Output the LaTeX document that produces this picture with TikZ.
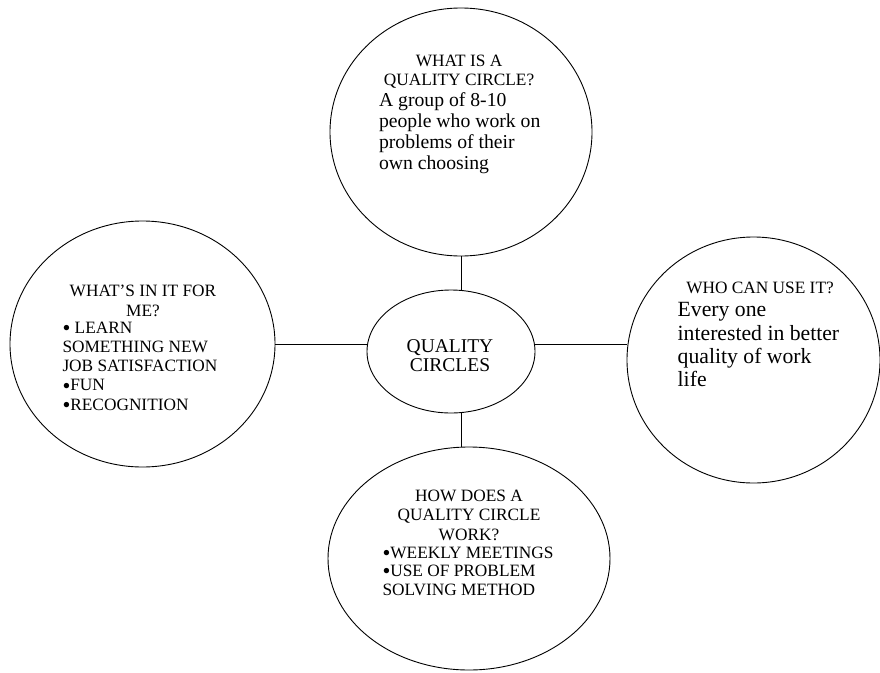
\documentclass[tikz,border=0pt]{standalone}
\usepackage{fontspec}
\setmainfont{Liberation Serif}
\usetikzlibrary{shapes.geometric}
\tikzset{
  bubble/.style={ellipse, draw=black, line width=0.9pt, inner sep=0pt, outer sep=0pt},
  link/.style={draw=black, line width=0.9pt},
  txt/.style={inner sep=0pt, outer sep=0pt, text=black},
}
\newcommand{\hdfont}[1]{\fontsize{17.3}{#1}\selectfont}
\newcommand{\blt}{\smash{\raisebox{-0.13em}{\scalebox{1.3}{\textbullet}}}}
\begin{document}
\begin{tikzpicture}[x=1pt, y=-1pt]
\useasboundingbox (0,0) rectangle (880,672);

% bubbles
\node[bubble, minimum width=262, minimum height=248] (what) at (461,132) {};
\node[bubble, minimum width=168, minimum height=123] (core) at (451,351.5) {};
\node[bubble, minimum width=265, minimum height=246] (me) at (142.5,344) {};
\node[bubble, minimum width=253, minimum height=246] (who) at (753.5,360) {};
\node[bubble, minimum width=282, minimum height=223] (how) at (469,558.5) {};

% connectors
\draw[link] (what.south) -- (what.south |- core.north);
\draw[link] (what.south |- core.south) -- (what.south |- how.north);
\draw[link] (me.east) -- (me.east -| core.west);
\draw[link] (core.east |- me.east) -- (who.west |- me.east);

% centre text
\node[txt, anchor=base, font=\fontsize{19.5}{19}\selectfont] (coreT) at (450,352.7)
  {\begin{tabular}[t]{@{}c@{}}QUALITY\\CIRCLES\end{tabular}};

% top
\node[txt, anchor=base, font=\hdfont{19}] (whatH) at (459,66.7)
  {\begin{tabular}[t]{@{}c@{}}WHAT IS A\\QUALITY CIRCLE?\end{tabular}};
\node[txt, anchor=base west, font=\fontsize{19.7}{21.3}\selectfont] (whatB) at (379,106)
  {\begin{tabular}[t]{@{}l@{}}A group of 8-10\\people who work on\\problems of their\\own choosing\end{tabular}};

% left
\node[txt, anchor=base, font=\hdfont{20}] (meH) at (143,296)
  {\begin{tabular}[t]{@{}c@{}}WHAT’S IN IT FOR\\ME?\end{tabular}};
\node[txt, anchor=base west, font=\hdfont{19.25}] (meB) at (62.5,333)
  {\begin{tabular}[t]{@{}l@{}}\blt{} LEARN\\SOMETHING NEW\\JOB SATISFACTION\\\blt{}FUN\\\blt{}RECOGNITION\end{tabular}};

% right
\node[txt, anchor=base, font=\hdfont{19}] (whoH) at (760,293.3) {WHO CAN USE IT?};
\node[txt, anchor=base west, font=\fontsize{21.7}{23.3}\selectfont] (whoB) at (677.7,316.7)
  {\begin{tabular}[t]{@{}l@{}}Every one\\interested in better\\quality of work\\life\end{tabular}};

% bottom
\node[txt, anchor=base, font=\hdfont{19.2}] (howH) at (469,501.7)
  {\begin{tabular}[t]{@{}c@{}}HOW DOES A\\QUALITY CIRCLE\\WORK?\end{tabular}};
\node[txt, anchor=base west, font=\hdfont{18.35}] (howB) at (382.5,558.3)
  {\begin{tabular}[t]{@{}l@{}}\blt{}WEEKLY MEETINGS\\\blt{}USE OF PROBLEM\\SOLVING METHOD\end{tabular}};
\end{tikzpicture}
\end{document}
